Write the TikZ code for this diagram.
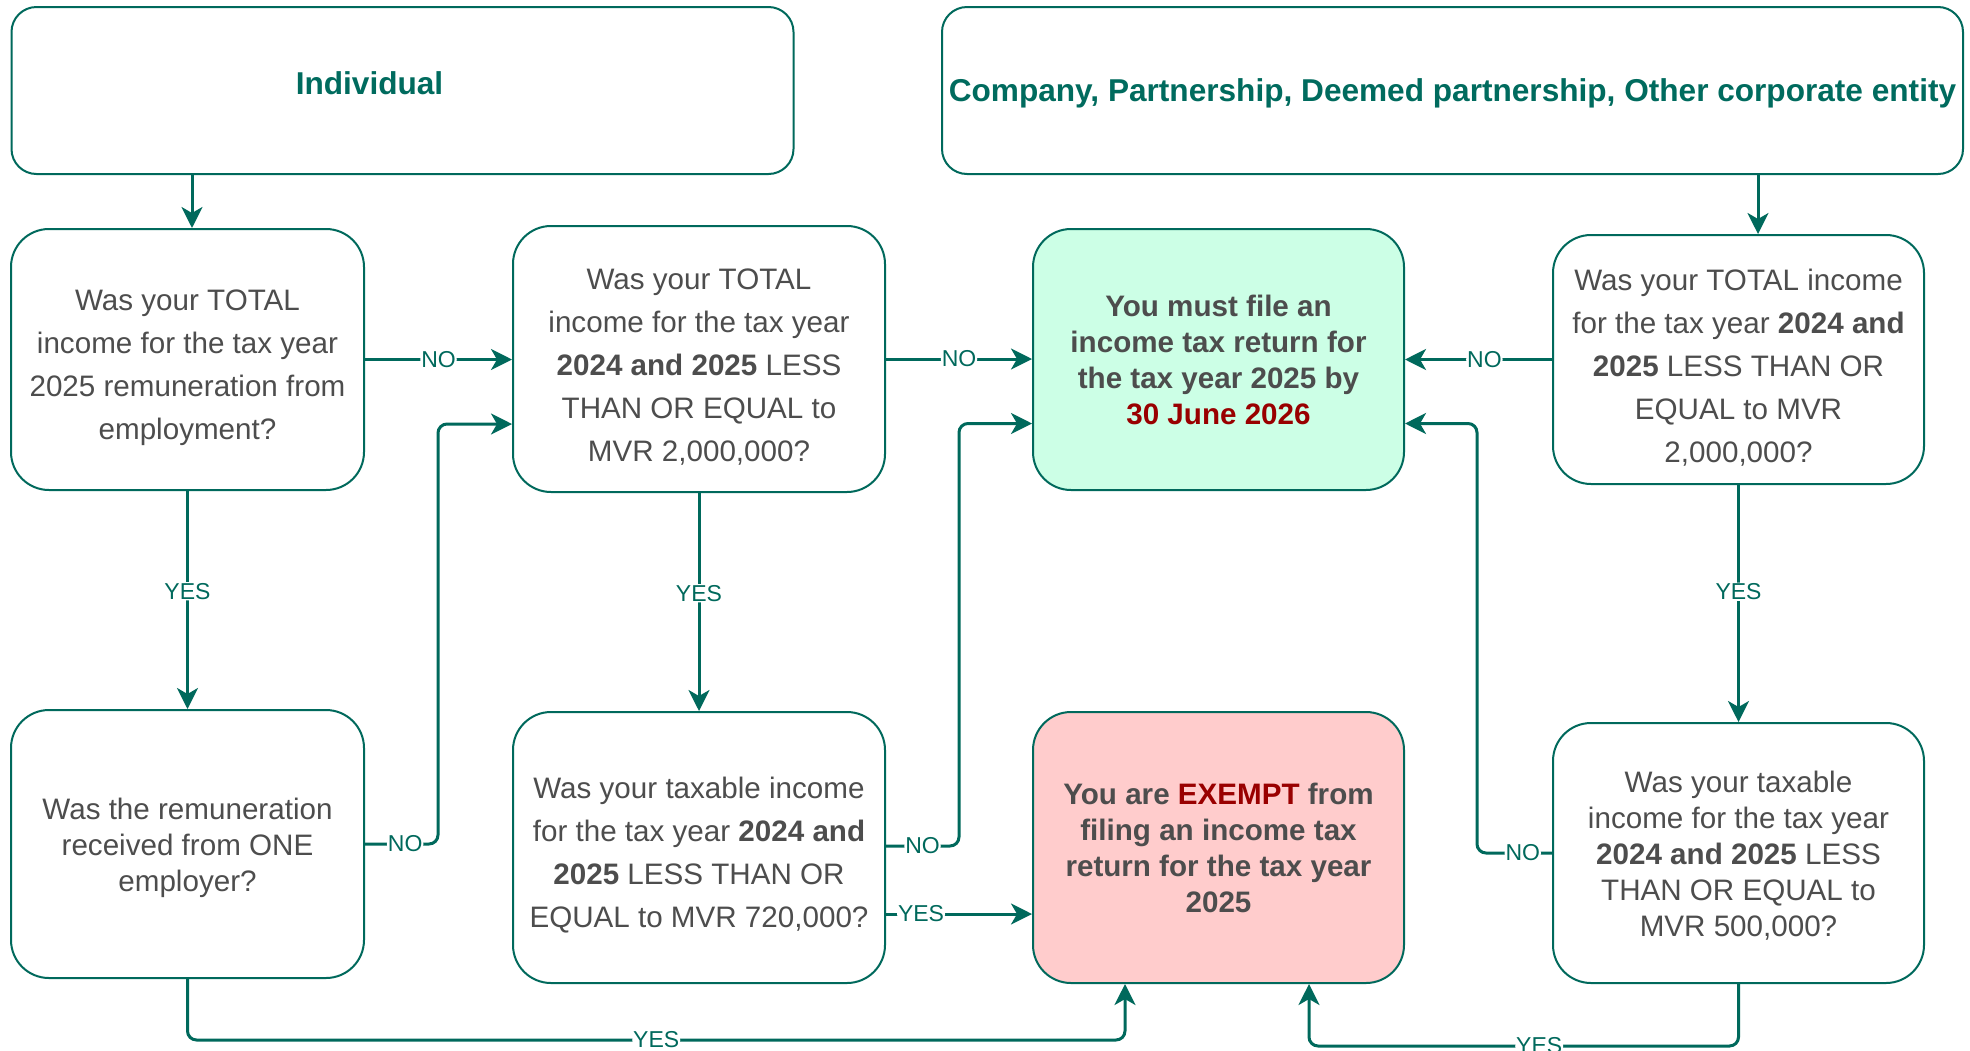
\documentclass[tikz,border=0pt]{standalone}
\usepackage{fontspec}
\setmainfont{Liberation Sans}
\usetikzlibrary{arrows.meta}
\definecolor{teal}{HTML}{00695C}
\definecolor{hdr}{HTML}{006B5E}
\definecolor{txt}{HTML}{4D4D4D}
\definecolor{dred}{HTML}{990000}
\definecolor{mint}{HTML}{CCFFE6}
\definecolor{pink}{HTML}{FFCCCC}
\newcommand{\upA}{\rule{0pt}{37pt}}
\newcommand{\upB}{\rule{0pt}{29.5pt}}
\newcommand{\upC}{\rule{0pt}{27.5pt}}
\tikzset{
  box/.style={draw=teal, line width=2pt, rounded corners=38pt, fill=white, align=center,
    text=txt, inner sep=0pt, font=\fontsize{29.6pt}{43pt}\selectfont},
  tight/.style={font=\fontsize{29.6pt}{36pt}\selectfont},
  hbox/.style={draw=teal, line width=2pt, rounded corners=25pt, fill=white, inner sep=0pt},
  htext/.style={text=hdr, font=\fontsize{31.6pt}{36pt}\selectfont\bfseries, inner sep=0pt},
  flow/.style={draw=teal, line width=3pt, rounded corners=9pt,
    -{Stealth[length=21pt,width=21pt,inset=6pt]}},
  lbl/.style={fill=white, text=teal, inner sep=1pt, font=\fontsize{23pt}{26pt}\selectfont}
}
\begin{document}
\begin{tikzpicture}[x=1pt,y=-1pt]
\fill[white] (0,0) rectangle (1970,1050);
\useasboundingbox (0,0) rectangle (1970,1050);

% header boxes
\node[hbox, minimum width=782pt, minimum height=167pt] (ind) at (402.5,90.5) {};
\node[htext] (indt) at ([xshift=-33pt,yshift=7.5pt]ind.center) {Individual};
\node[hbox, minimum width=1021pt, minimum height=167pt] (comp) at (1452.5,90.5) {};
\node[htext] (compt) at ([yshift=-2.5pt]comp.center) {Company, Partnership, Deemed partnership, Other corporate entity};

% question / result boxes
\node[box, minimum width=353pt, minimum height=261pt] (q1) at (187.5,359.5)
  {\upA Was your TOTAL\\income for the tax year\\2025 remuneration from\\employment?};
\node[box, minimum width=372pt, minimum height=266pt] (q2) at (699,359)
  {\upA Was your TOTAL\\income for the tax year\\\textbf{2024 and 2025} LESS\\THAN OR EQUAL to\\MVR 2,000,000?};
\node[box, tight, fill=mint, minimum width=371pt, minimum height=261pt] (must) at (1218.5,359.5)
  {\bfseries You must file an\\\bfseries income tax return for\\\bfseries the tax year 2025 by\\\bfseries\color{dred}30 June 2026};
\node[box, minimum width=371pt, minimum height=249pt] (q3) at (1738.5,359.5)
  {\upA Was your TOTAL income\\for the tax year \textbf{2024 and}\\\textbf{2025} LESS THAN OR\\EQUAL to MVR\\2,000,000?};
\node[box, tight, minimum width=353pt, minimum height=268pt] (q4) at (187.5,844)
  {\upB Was the remuneration\\received from ONE\\employer?};
\node[box, minimum width=372pt, minimum height=271pt] (q5) at (699,847.5)
  {\upA Was your taxable income\\for the tax year \textbf{2024 and}\\\textbf{2025} LESS THAN OR\\EQUAL to MVR 720,000?};
\node[box, tight, fill=pink, minimum width=371pt, minimum height=271pt] (exempt) at (1218.5,847.5)
  {\bfseries You are {\color{dred}EXEMPT} from\\\bfseries filing an income tax\\\bfseries return for the tax year\\\bfseries 2025};
\node[box, tight, minimum width=371pt, minimum height=260pt] (q6) at (1738.5,853)
  {\upC Was your taxable\\income for the tax year\\\textbf{2024 and 2025} LESS\\THAN OR EQUAL to\\MVR 500,000?};

% connectors - individual side
\draw[flow] ([xshift=4.5pt]q1.north |- ind.south) -- ([xshift=4.5pt]q1.north);
\draw[flow] (q1.east) -- node[lbl]{NO} (q1.east -| q2.west);
\draw[flow] (q1.south) -- node[lbl,pos=0.46]{YES} (q4.north);
\draw[flow] (q4.east) -- node[lbl,pos=0.55]{NO} ++(73,0) |- ([yshift=-65pt]q2.west);
\draw[flow] (q2.east) -- node[lbl]{NO} (q2.east -| must.west);
\draw[flow] (q2.south) -- node[lbl,pos=0.46]{YES} (q5.north);
\draw[flow] ([yshift=1.5pt]q5.east) -- node[lbl,pos=0.5]{NO} ++(73,0) |- ([yshift=-64pt]must.west);
\draw[flow] ([yshift=-66.5pt]q5.east) -- node[lbl,pos=0.24]{YES} ([yshift=-66.5pt]exempt.west);
\draw[flow] (q4.south) -- ++(0,61) -| node[lbl,pos=0.25]{YES} ([xshift=-93.5pt]exempt.south);

% connectors - company side
\draw[flow] ([xshift=19.5pt]q3.north |- comp.south) -- ([xshift=19.5pt]q3.north);
\draw[flow] (q3.west) -- node[lbl,pos=0.46]{NO} (q3.west -| must.east);
\draw[flow] (q3.south) -- node[lbl,pos=0.45]{YES} (q6.north);
\draw[flow] (q6.west) -- node[lbl,pos=0.39]{NO} ++(-75,0) |- ([yshift=-64pt]must.east);
\draw[flow] (q6.south) -- ++(0,62) -| node[lbl,pos=0.232]{YES} ([xshift=90.5pt]exempt.south);
\end{tikzpicture}
\end{document}
